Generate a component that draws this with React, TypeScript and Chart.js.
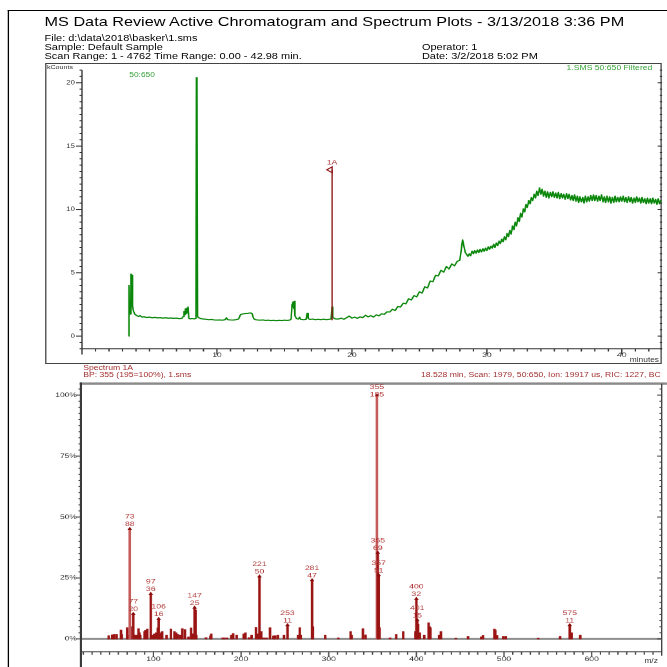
import React, { useEffect, useRef } from "react";
import { Chart, registerables } from "chart.js";

Chart.register(...registerables);

// The reference page is a portrait report stretched horizontally to a square.
const STRETCH = 1.29;
const PAGE_W = 517;
const PAGE_H = 667;
const FONT = "'Liberation Sans', Arial, Helvetica, sans-serif";

// ---------------- texts ----------------
const titleText = "MS Data Review Active Chromatogram and Spectrum Plots - 3/13/2018 3:36 PM";
const fileText = "File: d:\\data\\2018\\basker\\1.sms";
const sampleText = "Sample: Default Sample";
const scanText = "Scan Range: 1 - 4762 Time Range: 0.00 - 42.98 min.";
const operatorText = "Operator: 1";
const dateText = "Date: 3/2/2018 5:02 PM";
const chromYUnit = "kCounts";
const chromXUnit = "minutes";
const chromRangeLabel = "50:650";
const chromTraceLabel = "1.SMS 50:650 Filtered";
const spectrumTitle = "Spectrum 1A";
const spectrumBP = "BP: 355 (195=100%), 1.sms";
const spectrumInfo = "18.528 min, Scan: 1979, 50:650, Ion: 19917 us, RIC: 1227, BC";
const specXUnit = "m/z";

// ---------------- chromatogram data (minutes, kCounts) ----------------
const chromFront: [number, number][] = [
  [3.46, 0.0], [3.48, 4.0], [3.53, 2.0], [3.58, 1.75], [3.63, 4.9], [3.69, 4.8],
  [3.74, 2.4], [3.82, 1.95], [3.92, 1.72], [4.05, 1.62], [4.2, 1.55], [4.3, 1.62],
  [4.45, 1.5], [4.6, 1.53], [4.8, 1.47], [5.0, 1.5], [5.2, 1.45], [5.4, 1.48],
  [5.6, 1.44], [5.8, 1.46], [6.0, 1.42], [6.2, 1.45], [6.4, 1.41], [6.6, 1.43],
  [6.8, 1.4], [7.0, 1.42], [7.2, 1.38], [7.4, 1.4], [7.5, 1.55], [7.56, 1.95],
  [7.61, 1.7], [7.66, 2.15], [7.71, 1.8], [7.76, 2.2], [7.81, 1.9], [7.86, 2.3],
  [7.91, 1.42], [8.0, 1.36], [8.15, 1.4], [8.3, 1.36], [8.44, 1.4], [8.48, 20.4],
  [8.52, 20.3], [8.56, 1.55], [8.65, 1.45], [8.8, 1.38], [9.0, 1.35], [9.2, 1.33],
  [9.4, 1.3], [9.6, 1.32], [9.8, 1.28], [10.0, 1.27], [10.2, 1.28], [10.4, 1.26],
  [10.6, 1.3], [10.7, 1.45], [10.8, 1.3], [11.0, 1.28], [11.2, 1.27], [11.4, 1.3],
  [11.6, 1.35], [11.75, 1.7], [11.9, 1.75], [12.1, 1.78], [12.3, 1.8], [12.5, 1.83],
  [12.6, 1.78], [12.72, 1.38], [12.85, 1.3], [13.0, 1.28], [13.2, 1.26], [13.4, 1.28],
  [13.6, 1.24], [13.8, 1.26], [14.0, 1.23], [14.2, 1.25], [14.4, 1.22], [14.6, 1.25],
  [14.8, 1.23], [15.0, 1.26], [15.2, 1.24], [15.4, 1.27], [15.5, 1.35], [15.56, 2.5],
  [15.62, 2.68], [15.68, 2.2], [15.72, 2.75], [15.78, 1.6], [15.9, 1.38], [16.05, 1.35],
  [16.12, 1.5], [16.2, 1.33], [16.4, 1.3], [16.6, 1.32], [16.68, 1.8], [16.76, 1.38],
  [16.9, 1.32], [17.1, 1.35], [17.3, 1.3], [17.5, 1.33], [17.7, 1.3], [17.9, 1.34],
  [18.1, 1.3], [18.3, 1.33], [18.46, 1.35], [18.52, 2.3], [18.58, 1.5], [18.7, 1.38],
  [18.85, 1.35],
];

// sampled every 0.2 min from 19.0 min
const rampStart = 19.0;
const rampStep = 0.2;
const rampCounts = [
  1.35, 1.42, 1.33, 1.45, 1.58, 1.42, 1.5, 1.4, 1.52, 1.46,
  1.65, 1.52, 1.62, 1.5, 1.68, 1.6, 1.76, 1.72, 1.92, 1.9,
  2.12, 2.02, 2.34, 2.3, 2.6, 2.55, 2.95, 2.85, 3.2, 3.1,
  3.5, 3.4, 3.9, 3.8, 4.35, 4.3, 4.8, 4.75, 5.2, 5.05,
  5.5, 5.3, 5.7, 5.55, 5.9, 6.0, 7.6, 6.6,
];

// sampled every 0.1 min from 28.5 min
const plateauStart = 28.5;
const plateauStep = 0.1;
const plateauCounts = [
  6.45, 6.3, 6.5, 6.35, 6.7,
  6.5, 6.75, 6.55, 6.8, 6.6, 6.85, 6.65, 6.9, 6.7, 6.95,
  6.75, 7.05, 6.85, 7.1, 6.95, 7.25, 7.0, 7.35, 7.15, 7.5,
  7.3, 7.65, 7.45, 7.85, 7.6, 8.1, 7.85, 8.35, 8.05, 8.7,
  8.4, 9.0, 8.7, 9.35, 9.05, 9.7, 9.4, 10.05, 9.8, 10.4,
  10.15, 10.7, 10.45, 10.95, 10.7, 11.2, 10.9, 11.45, 11.1, 11.7,
  11.2, 11.6, 11.05, 11.45, 10.95, 11.4, 10.9, 11.35, 11.0, 11.4,
  10.95, 11.3, 10.9, 11.35, 10.85, 11.25, 10.9, 11.2, 10.8, 11.25,
  10.85, 11.2, 10.75, 11.1, 10.7, 11.15, 10.65, 11.05, 10.55, 11.0,
  10.6, 10.95, 10.5, 11.05, 10.6, 11.0, 10.65, 11.1, 10.7, 11.15,
  10.7, 11.1, 10.65, 11.05, 10.7, 11.15, 10.6, 11.0, 10.55, 11.05,
  10.6, 11.0, 10.5, 10.95, 10.55, 11.05, 10.6, 10.95, 10.6, 11.0,
  10.65, 11.05, 10.6, 10.95, 10.55, 11.0, 10.6, 10.95, 10.5, 10.9,
  10.55, 11.0, 10.6, 10.9, 10.5, 10.95, 10.55, 10.85, 10.45, 10.9,
  10.5, 10.85, 10.45, 10.9, 10.5, 10.8, 10.4, 10.85, 10.45, 10.75,
];

const chromTimeMin = 0;
const chromTimeMax = 42.98;
const chromCountMin = -1;
const chromCountMax = 21;

// spectrum marker "1A" in the chromatogram
const markerTime = 18.528;
const markerBase = 1.25;
const markerTop = 13.13;
const markerLabel = "1A";

// ---------------- spectrum data ----------------
const basePeakCounts = 195;
const labeledMz = [73, 77, 97, 106, 147, 221, 253, 281, 355, 356, 357, 400, 401, 575];
const labeledCounts = [88, 20, 36, 16, 25, 50, 11, 47, 195, 69, 51, 32, 15, 11];
const labeledText = ["73", "77", "97", "106", "147", "221", "253", "281", "355", "355", "357", "400", "401", "575"];

const minorMz = [
  49, 53, 55, 58, 63, 64, 70, 71, 74, 79, 81, 83, 84, 85, 90, 91, 93, 99, 101, 103,
  105, 107, 109, 110, 115, 120, 124, 126, 128, 131, 133, 136, 140, 143, 144, 145, 148, 149, 160, 165,
  166, 179, 181, 184, 189, 191, 195, 203, 205, 209, 212, 217, 219, 223, 226, 229, 233, 237, 239, 242,
  249, 265, 267, 268, 282, 296, 311, 325, 326, 339, 342, 358, 370, 377, 385, 399, 402, 404, 409, 414,
  415, 416, 426, 428, 445, 459, 474, 476, 489, 490, 492, 499, 502, 539, 564, 577, 587,
];
const minorPct = [
  1.3, 1.6, 1.8, 1.8, 3.6, 1.8, 4.6, 1.5, 5.0, 1.5, 1.5, 4.2, 2.5, 1.5, 3.0, 3.5, 4.0, 1.5, 2.0, 2.5,
  4.5, 2.0, 2.5, 3.0, 1.5, 4.0, 3.0, 2.5, 1.8, 1.5, 4.2, 3.8, 0.8, 4.5, 2.0, 2.0, 11.8, 1.5, 0.5, 1.2,
  2.0, 0.4, 0.4, 0.4, 1.5, 2.2, 1.5, 2.0, 2.5, 0.5, 1.5, 4.7, 2.0, 3.0, 0.4, 0.4, 4.6, 1.2, 1.3, 1.5,
  1.5, 1.5, 4.6, 1.5, 5.0, 1.5, 0.4, 3.0, 1.5, 4.2, 1.6, 4.6, 0.4, 1.8, 3.0, 3.0, 6.0, 2.5, 1.5, 6.6,
  5.0, 4.6, 1.5, 3.0, 0.3, 1.0, 0.8, 1.4, 4.0, 3.6, 1.4, 1.0, 1.0, 0.3, 1.0, 2.5, 1.5,
];

const specMzMin = 18;
const specMzMax = 680;
const specPctMin = -5.26;
const specPctMax = 104.74;

// ---------------- helpers ----------------
const AXIS = "#333";

function Txt(props: {
  x: number;
  y: number;
  size: number;
  color?: string;
  align?: "left" | "right";
  children: React.ReactNode;
}) {
  const { x, y, size, color = "#000", align = "left", children } = props;
  const style: React.CSSProperties = {
    position: "absolute",
    top: y - size / 2,
    fontSize: size,
    lineHeight: `${size}px`,
    fontFamily: FONT,
    color,
    whiteSpace: "nowrap",
  };
  if (align === "left") style.left = x;
  else style.right = PAGE_W - x;
  return <div style={style}>{children}</div>;
}

function Chromatogram() {
  const ref = useRef<HTMLCanvasElement>(null);
  useEffect(() => {
    const canvas = ref.current;
    if (!canvas) return;
    const pts = [
      ...chromFront.map(([x, y]) => ({ x, y })),
      ...rampCounts.map((y, i) => ({ x: +(rampStart + i * rampStep).toFixed(2), y })),
      ...plateauCounts.map((y, i) => ({ x: +(plateauStart + i * plateauStep).toFixed(2), y })),
    ];
    const axesPlugin = {
      id: "chromAxes",
      afterDatasetsDraw(chart: any) {
        const { ctx, chartArea: a, scales } = chart;
        const xs = scales.x;
        const ys = scales.y;
        ctx.save();
        ctx.strokeStyle = AXIS;
        ctx.lineWidth = 1;
        ctx.beginPath();
        ctx.moveTo(a.left, a.top);
        ctx.lineTo(a.left, a.bottom);
        ctx.lineTo(a.right, a.bottom);
        ctx.stroke();
        // y ticks (left outward, right inward)
        ctx.beginPath();
        for (let k = chromCountMin * 2; k <= chromCountMax * 2; k++) {
          const v = k / 2;
          const py = ys.getPixelForValue(v);
          const major = k % 10 === 0;
          ctx.moveTo(a.left - (major ? 4.6 : 1.9), py);
          ctx.lineTo(a.left, py);
          ctx.moveTo(a.right - (major ? 3.4 : 1.8), py);
          ctx.lineTo(a.right, py);
        }
        // x ticks
        for (let t = Math.ceil(chromTimeMin); t <= chromTimeMax; t++) {
          const px = xs.getPixelForValue(t);
          const major = t % 10 === 0;
          ctx.moveTo(px, a.bottom);
          ctx.lineTo(px, a.bottom + (major ? 5.7 : 2.7));
        }
        ctx.stroke();
        // spectrum marker 1A
        const mx = xs.getPixelForValue(markerTime);
        const yb = ys.getPixelForValue(markerBase);
        const yt = ys.getPixelForValue(markerTop);
        ctx.strokeStyle = "#8b1414";
        ctx.beginPath();
        ctx.moveTo(mx, yb);
        ctx.lineTo(mx, yt);
        ctx.stroke();
        ctx.beginPath();
        ctx.moveTo(mx, yt - 2.9);
        ctx.lineTo(mx - 4.1, yt);
        ctx.lineTo(mx, yt + 2.9);
        ctx.closePath();
        ctx.stroke();
        ctx.fillStyle = "#a83a3a";
        ctx.font = `6.7px ${FONT}`;
        ctx.textAlign = "center";
        ctx.textBaseline = "middle";
        ctx.fillText(markerLabel, mx, yt - 7.2);
        ctx.restore();
      },
    };
    const chart = new Chart(canvas, {
      type: "line",
      data: {
        datasets: [
          {
            data: pts,
            borderColor: "#0a870a",
            borderWidth: 1.2,
            borderJoinStyle: "round",
            pointRadius: 0,
            tension: 0,
            fill: false,
          },
        ],
      },
      options: {
        animation: false,
        responsive: true,
        maintainAspectRatio: false,
        devicePixelRatio: 2,
        events: [],
        layout: { padding: { top: 5.4, right: 3.8, left: 0, bottom: 0 } },
        plugins: { legend: { display: false }, tooltip: { enabled: false } },
        scales: {
          x: {
            type: "linear",
            min: chromTimeMin,
            max: chromTimeMax,
            grid: { display: false, drawTicks: false },
            border: { display: false },
            afterFit: (s: any) => {
              s.height = 17.2;
            },
            ticks: {
              stepSize: 10,
              includeBounds: false,
              autoSkip: false,
              maxRotation: 0,
              padding: 2.5,
              color: AXIS,
              font: { family: FONT, size: 6.7 },
              callback: (v: any) => (Number(v) === 0 ? "" : String(v)),
            },
          },
          y: {
            type: "linear",
            min: chromCountMin,
            max: chromCountMax,
            grid: { display: false, drawTicks: false },
            border: { display: false },
            afterFit: (s: any) => {
              s.width = 29.57;
            },
            ticks: {
              stepSize: 5,
              includeBounds: false,
              padding: 5.5,
              color: AXIS,
              font: { family: FONT, size: 6 },
              callback: (v: any) => String(Math.round(Number(v))),
            },
          },
        },
      } as any,
      plugins: [axesPlugin],
    });
    return () => chart.destroy();
  }, []);
  return (
    <div style={{ position: "absolute", left: 34, top: 61, width: 483, height: 305 }}>
      <canvas ref={ref} />
    </div>
  );
}

function Spectrum() {
  const ref = useRef<HTMLCanvasElement>(null);
  useEffect(() => {
    const canvas = ref.current;
    if (!canvas) return;
    const bars = [
      ...minorMz.map((mz, i) => ({ x: mz, y: minorPct[i] })),
      ...labeledMz.map((mz, i) => ({ x: mz, y: (labeledCounts[i] / basePeakCounts) * 100 })),
    ];
    const markers = labeledMz.map((mz, i) => ({ x: mz, y: (labeledCounts[i] / basePeakCounts) * 100 }));
    const plugin = {
      id: "specAxes",
      beforeDatasetsDraw(chart: any) {
        const { ctx, chartArea: a, scales } = chart;
        const y0 = scales.y.getPixelForValue(0);
        ctx.save();
        ctx.fillStyle = "#8e8e8e";
        ctx.fillRect(a.left, y0 - 1, a.right - a.left, 2);
        ctx.restore();
      },
      afterDatasetsDraw(chart: any) {
        const { ctx, chartArea: a, scales, width, height } = chart;
        const xs = scales.x;
        const ys = scales.y;
        ctx.save();
        // top gray rule
        ctx.fillStyle = "#8a8a8a";
        ctx.fillRect(a.left - 1.5, a.top - 1.2, width, 2.4);
        // thick left axis
        ctx.fillStyle = "#3a3a3a";
        ctx.fillRect(a.left - 1.3, a.top - 1.2, 1.6, height);
        ctx.strokeStyle = "#444";
        ctx.lineWidth = 1;
        ctx.beginPath();
        ctx.moveTo(a.right, a.top);
        ctx.lineTo(a.right, a.bottom + 4);
        ctx.moveTo(a.left, a.bottom);
        ctx.lineTo(a.right, a.bottom);
        // y ticks every 2.5 %
        for (let k = 0; k <= 41; k++) {
          const v = k * 2.5;
          const py = ys.getPixelForValue(v);
          const major = k % 10 === 0;
          ctx.moveTo(a.left - 0.5 - (major ? 3.9 : 1.9), py);
          ctx.lineTo(a.left - 0.5, py);
          ctx.moveTo(a.right - (major ? 3.5 : 1.8), py);
          ctx.lineTo(a.right, py);
        }
        // x ticks every 10 m/z
        for (let m = 20; m <= specMzMax; m += 10) {
          const px = xs.getPixelForValue(m);
          const major = m % 100 === 0;
          ctx.moveTo(px, a.bottom);
          ctx.lineTo(px, a.bottom + (major ? 5 : 3));
        }
        ctx.stroke();
        // peak labels
        ctx.fillStyle = "#b03838";
        ctx.font = `6.7px ${FONT}`;
        ctx.textAlign = "center";
        ctx.textBaseline = "middle";
        labeledMz.forEach((mz, i) => {
          const px = xs.getPixelForValue(mz);
          const py = ys.getPixelForValue((labeledCounts[i] / basePeakCounts) * 100);
          let l1 = py - 12;
          let l2 = py - 4.7;
          if (l1 < a.top + 3.3) {
            l1 = a.top + 3.3;
            l2 = l1 + 7.7;
          }
          ctx.fillText(labeledText[i], px, l1);
          ctx.fillText(String(labeledCounts[i]), px, l2);
        });
        ctx.restore();
      },
    };
    const chart = new Chart(canvas, {
      type: "bar",
      data: {
        datasets: [
          {
            type: "line",
            data: markers,
            showLine: false,
            pointStyle: "triangle",
            pointRadius: 2.1,
            pointBackgroundColor: "#8b0a0a",
            pointBorderWidth: 0,
            order: 0,
          },
          {
            type: "bar",
            data: bars,
            barThickness: 1.3,
            backgroundColor: (c: any) => (c.raw && c.raw.y > 40 ? "#c45c5c" : "#9a1414"),
            borderWidth: 0,
            order: 1,
          },
        ],
      } as any,
      options: {
        animation: false,
        responsive: true,
        maintainAspectRatio: false,
        devicePixelRatio: 2,
        events: [],
        layout: { padding: { top: 4, right: 4, left: 0, bottom: 0 } },
        plugins: { legend: { display: false }, tooltip: { enabled: false } },
        scales: {
          x: {
            type: "linear",
            min: specMzMin,
            max: specMzMax,
            offset: false,
            grid: { display: false, drawTicks: false, offset: false },
            border: { display: false },
            afterFit: (s: any) => {
              s.height = 15.3;
            },
            ticks: {
              stepSize: 100,
              includeBounds: false,
              autoSkip: false,
              maxRotation: 0,
              padding: 3.6,
              color: AXIS,
              font: { family: FONT, size: 6.7 },
              callback: (v: any) => String(Math.round(Number(v))),
            },
          },
          y: {
            type: "linear",
            min: specPctMin,
            max: specPctMax,
            grid: { display: false, drawTicks: false },
            border: { display: false },
            afterFit: (s: any) => {
              s.width = 29.2;
            },
            ticks: {
              stepSize: 25,
              includeBounds: false,
              padding: 3.7,
              color: AXIS,
              font: { family: FONT, size: 6.5 },
              callback: (v: any) => `${Math.round(Number(v))}%`,
            },
          },
        },
      } as any,
      plugins: [plugin],
    });
    return () => chart.destroy();
  }, []);
  return (
    <div style={{ position: "absolute", left: 34, top: 376, width: 483, height: 291 }}>
      <canvas ref={ref} />
    </div>
  );
}

export default function App() {
  const green = "#3aa23a";
  const red = "#a33030";
  return (
    <div
      style={{
        position: "absolute",
        left: 0,
        top: 0,
        width: 667,
        height: 667,
        overflow: "hidden",
        background: "#fff",
      }}
    >
      <div
        style={{
          position: "absolute",
          left: 0,
          top: 0,
          width: PAGE_W,
          height: PAGE_H,
          transform: `scaleX(${STRETCH})`,
          transformOrigin: "0 0",
        }}
      >
        {/* page frame */}
        <div
          style={{
            position: "absolute",
            left: 5.7,
            top: 10,
            width: 600,
            height: 700,
            borderLeft: "1.4px solid #000",
            borderTop: "1.8px solid #000",
          }}
        />
        <Txt x={34.5} y={22} size={12.6}>{titleText}</Txt>
        <Txt x={34.5} y={38} size={8.5}>{fileText}</Txt>
        <Txt x={34.5} y={47} size={8.5}>{sampleText}</Txt>
        <Txt x={34.5} y={56} size={8.5}>{scanText}</Txt>
        <Txt x={327.1} y={47} size={8.5}>{operatorText}</Txt>
        <Txt x={327.1} y={56} size={8.5}>{dateText}</Txt>

        {/* chromatogram box */}
        <div
          style={{
            position: "absolute",
            left: 34.5,
            top: 62.5,
            width: 478.7,
            height: 301.5,
            border: "1px solid #444",
            boxSizing: "border-box",
          }}
        />
        <Chromatogram />
        <Txt x={36.4} y={68} size={5.5} color={AXIS}>{chromYUnit}</Txt>
        <Txt x={100.2} y={75} size={6.5} color={green}>{chromRangeLabel}</Txt>
        <Txt x={505.7} y={68} size={6.7} color={green} align="right">{chromTraceLabel}</Txt>
        <Txt x={510.9} y={360.5} size={6.5} color={AXIS} align="right">{chromXUnit}</Txt>

        {/* spectrum */}
        <Txt x={64.5} y={368} size={6.7} color={red}>{spectrumTitle}</Txt>
        <Txt x={64.5} y={375} size={6.7} color={red}>{spectrumBP}</Txt>
        <Txt x={512.2} y={375} size={6.7} color={red} align="right">{spectrumInfo}</Txt>
        <Spectrum />
        <Txt x={510} y={661.7} size={6.5} color={AXIS} align="right">{specXUnit}</Txt>
      </div>
    </div>
  );
}
